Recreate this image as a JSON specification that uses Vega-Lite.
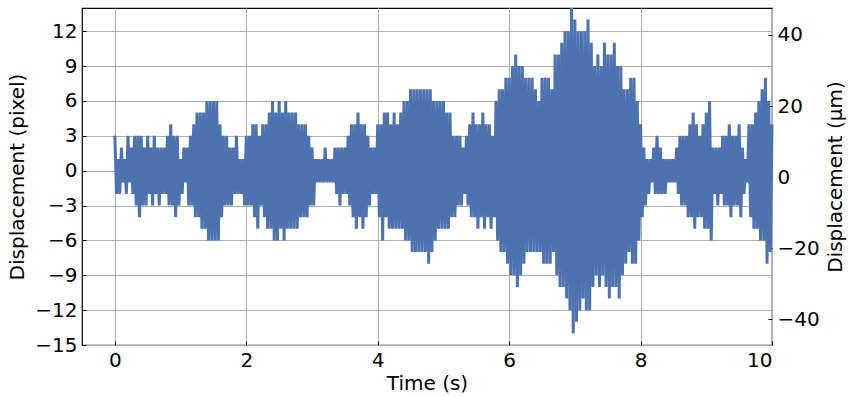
{
 "$schema": "https://vega.github.io/schema/vega-lite/v6.json",
 "width": 690, "height": 337,
 "autosize": {"type": "none"},
 "padding": {"left": 82, "top": 8, "right": 76, "bottom": 52},
 "config": {
  "font": "DejaVu Sans",
  "view": {"stroke": "black", "strokeWidth": 1.2},
  "axis": {"labelFontSize": 20, "titleFontSize": 20, "titleFontWeight": "normal", "labelColor": "black", "titleColor": "black", "gridColor": "#b0b0b0", "gridWidth": 1, "domain": false, "tickColor": "black", "tickSize": -4, "labelPadding": 9}
 },
 "data": {"values": [
{"t":0.0,"v":3},{"t":0.025,"v":-2},{"t":0.05,"v":1},{"t":0.075,"v":-2},{"t":0.1,"v":2},{"t":0.125,"v":-1},{"t":0.15,"v":1},{"t":0.175,"v":-2},{"t":0.2,"v":3},{"t":0.225,"v":-1},
{"t":0.25,"v":2},{"t":0.275,"v":-2},{"t":0.3,"v":3},{"t":0.325,"v":-3},{"t":0.35,"v":3},{"t":0.375,"v":-4},{"t":0.4,"v":3},{"t":0.425,"v":-3},{"t":0.45,"v":2},{"t":0.475,"v":-3},
{"t":0.5,"v":3},{"t":0.525,"v":-2},{"t":0.55,"v":2},{"t":0.575,"v":-3},{"t":0.6,"v":3},{"t":0.625,"v":-2},{"t":0.65,"v":2},{"t":0.675,"v":-3},{"t":0.7,"v":2},{"t":0.725,"v":-2},
{"t":0.75,"v":2},{"t":0.775,"v":-2},{"t":0.8,"v":3},{"t":0.825,"v":-3},{"t":0.85,"v":4},{"t":0.875,"v":-3},{"t":0.9,"v":3},{"t":0.925,"v":-4},{"t":0.95,"v":3},{"t":0.975,"v":-3},
{"t":1.0,"v":1},{"t":1.025,"v":-2},{"t":1.05,"v":2},{"t":1.075,"v":-1},{"t":1.1,"v":2},{"t":1.125,"v":-3},{"t":1.15,"v":3},{"t":1.175,"v":-3},{"t":1.2,"v":4},{"t":1.225,"v":-4},
{"t":1.25,"v":5},{"t":1.275,"v":-4},{"t":1.3,"v":5},{"t":1.325,"v":-5},{"t":1.35,"v":5},{"t":1.375,"v":-5},{"t":1.4,"v":6},{"t":1.425,"v":-6},{"t":1.45,"v":6},{"t":1.475,"v":-6},
{"t":1.5,"v":6},{"t":1.525,"v":-6},{"t":1.55,"v":6},{"t":1.575,"v":-6},{"t":1.6,"v":4},{"t":1.625,"v":-4},{"t":1.65,"v":3},{"t":1.675,"v":-3},{"t":1.7,"v":3},{"t":1.725,"v":-3},
{"t":1.75,"v":2},{"t":1.775,"v":-3},{"t":1.8,"v":2},{"t":1.825,"v":-2},{"t":1.85,"v":3},{"t":1.875,"v":-2},{"t":1.9,"v":1},{"t":1.925,"v":-2},{"t":1.95,"v":1},{"t":1.975,"v":-3},
{"t":2.0,"v":3},{"t":2.025,"v":-3},{"t":2.05,"v":3},{"t":2.075,"v":-3},{"t":2.1,"v":4},{"t":2.125,"v":-4},{"t":2.15,"v":4},{"t":2.175,"v":-5},{"t":2.2,"v":3},{"t":2.225,"v":-3},
{"t":2.25,"v":4},{"t":2.275,"v":-4},{"t":2.3,"v":4},{"t":2.325,"v":-5},{"t":2.35,"v":5},{"t":2.375,"v":-5},{"t":2.4,"v":6},{"t":2.425,"v":-6},{"t":2.45,"v":5},{"t":2.475,"v":-6},
{"t":2.5,"v":6},{"t":2.525,"v":-5},{"t":2.55,"v":5},{"t":2.575,"v":-6},{"t":2.6,"v":6},{"t":2.625,"v":-5},{"t":2.65,"v":5},{"t":2.675,"v":-5},{"t":2.7,"v":5},{"t":2.725,"v":-5},
{"t":2.75,"v":5},{"t":2.775,"v":-5},{"t":2.8,"v":4},{"t":2.825,"v":-4},{"t":2.85,"v":4},{"t":2.875,"v":-4},{"t":2.9,"v":4},{"t":2.925,"v":-4},{"t":2.95,"v":3},{"t":2.975,"v":-3},
{"t":3.0,"v":2},{"t":3.025,"v":-3},{"t":3.05,"v":1},{"t":3.075,"v":-1},{"t":3.1,"v":1},{"t":3.125,"v":-1},{"t":3.15,"v":1},{"t":3.175,"v":-1},{"t":3.2,"v":2},{"t":3.225,"v":-1},
{"t":3.25,"v":1},{"t":3.275,"v":-1},{"t":3.3,"v":1},{"t":3.325,"v":-1},{"t":3.35,"v":2},{"t":3.375,"v":-2},{"t":3.4,"v":2},{"t":3.425,"v":-3},{"t":3.45,"v":2},{"t":3.475,"v":-2},
{"t":3.5,"v":2},{"t":3.525,"v":-2},{"t":3.55,"v":3},{"t":3.575,"v":-3},{"t":3.6,"v":4},{"t":3.625,"v":-4},{"t":3.65,"v":4},{"t":3.675,"v":-5},{"t":3.7,"v":5},{"t":3.725,"v":-4},
{"t":3.75,"v":4},{"t":3.775,"v":-5},{"t":3.8,"v":4},{"t":3.825,"v":-4},{"t":3.85,"v":3},{"t":3.875,"v":-3},{"t":3.9,"v":2},{"t":3.925,"v":-2},{"t":3.95,"v":2},{"t":3.975,"v":-2},
{"t":4.0,"v":4},{"t":4.025,"v":-4},{"t":4.05,"v":4},{"t":4.075,"v":-6},{"t":4.1,"v":5},{"t":4.125,"v":-4},{"t":4.15,"v":5},{"t":4.175,"v":-5},{"t":4.2,"v":4},{"t":4.225,"v":-5},
{"t":4.25,"v":5},{"t":4.275,"v":-5},{"t":4.3,"v":4},{"t":4.325,"v":-5},{"t":4.35,"v":5},{"t":4.375,"v":-5},{"t":4.4,"v":6},{"t":4.425,"v":-6},{"t":4.45,"v":6},{"t":4.475,"v":-6},
{"t":4.5,"v":7},{"t":4.525,"v":-7},{"t":4.55,"v":7},{"t":4.575,"v":-7},{"t":4.6,"v":7},{"t":4.625,"v":-7},{"t":4.65,"v":7},{"t":4.675,"v":-7},{"t":4.7,"v":7},{"t":4.725,"v":-7},
{"t":4.75,"v":7},{"t":4.775,"v":-8},{"t":4.8,"v":7},{"t":4.825,"v":-7},{"t":4.85,"v":6},{"t":4.875,"v":-6},{"t":4.9,"v":6},{"t":4.925,"v":-5},{"t":4.95,"v":6},{"t":4.975,"v":-5},
{"t":5.0,"v":6},{"t":5.025,"v":-5},{"t":5.05,"v":5},{"t":5.075,"v":-5},{"t":5.1,"v":5},{"t":5.125,"v":-4},{"t":5.15,"v":3},{"t":5.175,"v":-4},{"t":5.2,"v":3},{"t":5.225,"v":-3},
{"t":5.25,"v":3},{"t":5.275,"v":-3},{"t":5.3,"v":2},{"t":5.325,"v":-2},{"t":5.35,"v":3},{"t":5.375,"v":-3},{"t":5.4,"v":4},{"t":5.425,"v":-4},{"t":5.45,"v":5},{"t":5.475,"v":-4},
{"t":5.5,"v":4},{"t":5.525,"v":-5},{"t":5.55,"v":4},{"t":5.575,"v":-4},{"t":5.6,"v":5},{"t":5.625,"v":-5},{"t":5.65,"v":4},{"t":5.675,"v":-4},{"t":5.7,"v":4},{"t":5.725,"v":-5},
{"t":5.75,"v":3},{"t":5.775,"v":-4},{"t":5.8,"v":6},{"t":5.825,"v":-6},{"t":5.85,"v":7},{"t":5.875,"v":-7},{"t":5.9,"v":7},{"t":5.925,"v":-7},{"t":5.95,"v":8},{"t":5.975,"v":-8},
{"t":6.0,"v":8},{"t":6.025,"v":-9},{"t":6.05,"v":9},{"t":6.075,"v":-9},{"t":6.1,"v":10},{"t":6.125,"v":-10},{"t":6.15,"v":9},{"t":6.175,"v":-9},{"t":6.2,"v":9},{"t":6.225,"v":-8},
{"t":6.25,"v":8},{"t":6.275,"v":-7},{"t":6.3,"v":8},{"t":6.325,"v":-7},{"t":6.35,"v":8},{"t":6.375,"v":-7},{"t":6.4,"v":7},{"t":6.425,"v":-7},{"t":6.45,"v":6},{"t":6.475,"v":-7},
{"t":6.5,"v":8},{"t":6.525,"v":-8},{"t":6.55,"v":8},{"t":6.575,"v":-8},{"t":6.6,"v":8},{"t":6.625,"v":-8},{"t":6.65,"v":7},{"t":6.675,"v":-7},{"t":6.7,"v":10},{"t":6.725,"v":-9},
{"t":6.75,"v":10},{"t":6.775,"v":-10},{"t":6.8,"v":11},{"t":6.825,"v":-10},{"t":6.85,"v":12},{"t":6.875,"v":-11},{"t":6.9,"v":12},{"t":6.925,"v":-12},{"t":6.95,"v":14},{"t":6.975,"v":-14},
{"t":7.0,"v":13},{"t":7.025,"v":-13},{"t":7.05,"v":12},{"t":7.075,"v":-12},{"t":7.1,"v":12},{"t":7.125,"v":-11},{"t":7.15,"v":12},{"t":7.175,"v":-12},{"t":7.2,"v":13},{"t":7.225,"v":-12},
{"t":7.25,"v":11},{"t":7.275,"v":-10},{"t":7.3,"v":9},{"t":7.325,"v":-9},{"t":7.35,"v":10},{"t":7.375,"v":-10},{"t":7.4,"v":9},{"t":7.425,"v":-9},{"t":7.45,"v":11},{"t":7.475,"v":-10},
{"t":7.5,"v":10},{"t":7.525,"v":-11},{"t":7.55,"v":10},{"t":7.575,"v":-10},{"t":7.6,"v":11},{"t":7.625,"v":-10},{"t":7.65,"v":9},{"t":7.675,"v":-11},{"t":7.7,"v":9},{"t":7.725,"v":-9},
{"t":7.75,"v":7},{"t":7.775,"v":-8},{"t":7.8,"v":7},{"t":7.825,"v":-7},{"t":7.85,"v":8},{"t":7.875,"v":-8},{"t":7.9,"v":8},{"t":7.925,"v":-8},{"t":7.95,"v":6},{"t":7.975,"v":-6},
{"t":8.0,"v":4},{"t":8.025,"v":-4},{"t":8.05,"v":2},{"t":8.075,"v":-3},{"t":8.1,"v":1},{"t":8.125,"v":-2},{"t":8.15,"v":1},{"t":8.175,"v":-1},{"t":8.2,"v":2},{"t":8.225,"v":-2},
{"t":8.25,"v":3},{"t":8.275,"v":-2},{"t":8.3,"v":2},{"t":8.325,"v":-2},{"t":8.35,"v":1},{"t":8.375,"v":-2},{"t":8.4,"v":1},{"t":8.425,"v":-1},{"t":8.45,"v":1},{"t":8.475,"v":-1},
{"t":8.5,"v":1},{"t":8.525,"v":-1},{"t":8.55,"v":2},{"t":8.575,"v":-2},{"t":8.6,"v":3},{"t":8.625,"v":-3},{"t":8.65,"v":3},{"t":8.675,"v":-3},{"t":8.7,"v":3},{"t":8.725,"v":-4},
{"t":8.75,"v":4},{"t":8.775,"v":-4},{"t":8.8,"v":5},{"t":8.825,"v":-5},{"t":8.85,"v":4},{"t":8.875,"v":-4},{"t":8.9,"v":3},{"t":8.925,"v":-4},{"t":8.95,"v":4},{"t":8.975,"v":-5},
{"t":9.0,"v":5},{"t":9.025,"v":-5},{"t":9.05,"v":6},{"t":9.075,"v":-6},{"t":9.1,"v":2},{"t":9.125,"v":-2},{"t":9.15,"v":2},{"t":9.175,"v":-3},{"t":9.2,"v":2},{"t":9.225,"v":-2},
{"t":9.25,"v":3},{"t":9.275,"v":-3},{"t":9.3,"v":3},{"t":9.325,"v":-3},{"t":9.35,"v":4},{"t":9.375,"v":-4},{"t":9.4,"v":3},{"t":9.425,"v":-3},{"t":9.45,"v":3},{"t":9.475,"v":-3},
{"t":9.5,"v":4},{"t":9.525,"v":-4},{"t":9.55,"v":2},{"t":9.575,"v":-2},{"t":9.6,"v":1},{"t":9.625,"v":-1},{"t":9.65,"v":4},{"t":9.675,"v":-4},{"t":9.7,"v":4},{"t":9.725,"v":-5},
{"t":9.75,"v":5},{"t":9.775,"v":-5},{"t":9.8,"v":6},{"t":9.825,"v":-6},{"t":9.85,"v":7},{"t":9.875,"v":-6},{"t":9.9,"v":8},{"t":9.925,"v":-8},{"t":9.95,"v":6},{"t":9.975,"v":-7},
{"t":10.0,"v":4}
 ]},
 "layer": [
  {
   "mark": {"type": "line", "color": "#4c72b0", "strokeWidth": 3, "strokeJoin": "bevel"},
   "encoding": {
    "x": {"field": "t", "type": "quantitative", "scale": {"domain": [-0.5, 10], "nice": false, "zero": false},
     "axis": {"values": [0, 2, 4, 6, 8, 10], "format": "d", "title": "Time (s)", "titlePadding": 3}},
    "y": {"field": "v", "type": "quantitative", "scale": {"domain": [-15, 14], "nice": false, "zero": false},
     "axis": {"values": [-15, -12, -9, -6, -3, 0, 3, 6, 9, 12], "format": "d", "title": "Displacement (pixel)", "titlePadding": 7}}
   }
  },
  {
   "mark": {"type": "point", "opacity": 0},
   "encoding": {
    "x": {"field": "t", "type": "quantitative"},
    "y": {"field": "v", "type": "quantitative", "scale": {"domain": [-47.3, 47.6], "nice": false, "zero": false},
     "axis": {"orient": "right", "values": [-40, -20, 0, 20, 40], "format": "d", "grid": false, "title": "Displacement (μm)", "titleAngle": 270, "titleBaseline": "top", "titlePadding": 6}}
   }
  }
 ],
 "resolve": {"scale": {"y": "independent"}}
}
